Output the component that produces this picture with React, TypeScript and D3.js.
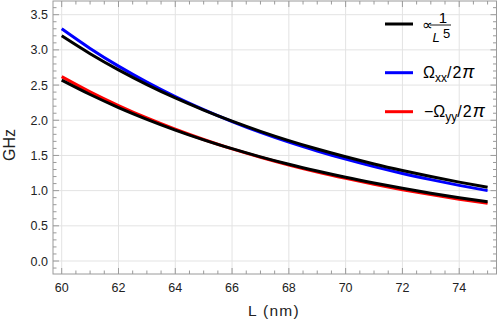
import { useEffect, useRef } from 'react';
import * as d3 from 'd3';

// L in nm
const lengths = [60, 61, 62, 63, 64, 65, 66, 67, 68, 69, 70, 71, 72, 73, 74, 75];
// fitted 1/L^5 curves (black)
const fitUpper = [3.2, 2.946, 2.716, 2.507, 2.317, 2.145, 1.987, 1.843, 1.711, 1.591, 1.481, 1.379, 1.286, 1.2, 1.121, 1.049];
const fitLower = [2.57, 2.366, 2.181, 2.014, 1.861, 1.722, 1.596, 1.48, 1.374, 1.278, 1.189, 1.108, 1.033, 0.964, 0.9, 0.842];
// Omega_xx / 2pi
const omegaXX = [3.3, 3.021, 2.769, 2.542, 2.336, 2.151, 1.982, 1.828, 1.689, 1.563, 1.447, 1.341, 1.244, 1.156, 1.075, 1.0];
// -Omega_yy / 2pi
const omegaYY = [2.62, 2.404, 2.209, 2.032, 1.872, 1.727, 1.594, 1.475, 1.365, 1.265, 1.174, 1.09, 1.013, 0.943, 0.879, 0.82];

const xTicks = [60, 62, 64, 66, 68, 70, 72, 74];
const yTicks = [0, 0.5, 1, 1.5, 2, 2.5, 3, 3.5];

const FONT = 'Liberation Sans, Arial, sans-serif';

const App = () => {
  const ref = useRef<SVGSVGElement>(null);

  useEffect(() => {
    const svg = d3.select(ref.current);
    svg.selectAll('*').remove();

    const left = 53, right = 496.5, top = 1, bottom = 274;

    const x = d3.scaleLinear().domain([60, 75]).range([61.7, 487.6]);
    const y = d3.scaleLinear().domain([0, 3.5]).range([261, 14.7]);

    const frameColor = '#9a9a9a';
    const gridColor = '#e3e3e3';

    // grid
    const grid = svg.append('g');
    xTicks.forEach(t => {
      grid.append('line')
        .attr('x1', x(t)).attr('x2', x(t))
        .attr('y1', top).attr('y2', bottom)
        .attr('stroke', gridColor).attr('stroke-width', 1);
    });
    yTicks.forEach(t => {
      grid.append('line')
        .attr('x1', left).attr('x2', right)
        .attr('y1', y(t)).attr('y2', y(t))
        .attr('stroke', gridColor).attr('stroke-width', 1);
    });

    // curves
    const series = [
      { vals: omegaXX, color: '#0000ff' },
      { vals: fitUpper, color: '#000000' },
      { vals: omegaYY, color: '#ff0000' },
      { vals: fitLower, color: '#000000' },
    ];
    const line = d3.line<number>()
      .x((_, i) => x(lengths[i]))
      .y(d => y(d))
      .curve(d3.curveMonotoneX);
    series.forEach(s => {
      svg.append('path')
        .datum(s.vals)
        .attr('d', line)
        .attr('fill', 'none')
        .attr('stroke', s.color)
        .attr('stroke-width', 3);
    });

    // frame
    svg.append('rect')
      .attr('x', left).attr('y', top)
      .attr('width', right - left).attr('height', bottom - top)
      .attr('fill', 'none').attr('stroke', frameColor).attr('stroke-width', 1);

    const ticks = svg.append('g').attr('stroke', frameColor).attr('stroke-width', 1);
    d3.range(60, 75.01, 0.5).forEach(t => {
      const major = Math.abs(t % 2) < 1e-6;
      const len = major ? 6 : 3.5;
      ticks.append('line').attr('x1', x(t)).attr('x2', x(t)).attr('y1', bottom).attr('y2', bottom - len);
      ticks.append('line').attr('x1', x(t)).attr('x2', x(t)).attr('y1', top).attr('y2', top + len);
    });
    d3.range(-0.1, 3.65, 0.1).forEach(t => {
      const major = Math.abs(Math.round(t * 10) % 5) === 0;
      const len = major ? 6 : 3.5;
      ticks.append('line').attr('x1', left).attr('x2', left + len).attr('y1', y(t)).attr('y2', y(t));
      ticks.append('line').attr('x1', right).attr('x2', right - len).attr('y1', y(t)).attr('y2', y(t));
    });

    // tick labels
    svg.append('g').selectAll('text')
      .data(xTicks).enter().append('text')
      .attr('x', d => x(d)).attr('y', 292)
      .attr('text-anchor', 'middle')
      .attr('font-family', FONT).attr('font-size', 12.5).attr('fill', '#222')
      .text(d => d);
    svg.append('g').selectAll('text')
      .data(yTicks).enter().append('text')
      .attr('x', 48).attr('y', d => y(d) + 4.5)
      .attr('text-anchor', 'end')
      .attr('font-family', FONT).attr('font-size', 12.5).attr('fill', '#222')
      .text(d => d.toFixed(1));

    // axis titles
    svg.append('text')
      .attr('x', 274).attr('y', 316)
      .attr('text-anchor', 'middle')
      .attr('font-family', FONT).attr('font-size', 15.5).attr('letter-spacing', 1.3).attr('fill', '#222')
      .text('L (nm)');
    svg.append('text')
      .attr('transform', `translate(15,145) rotate(-90)`)
      .attr('text-anchor', 'middle')
      .attr('font-family', FONT).attr('font-size', 16).attr('fill', '#222')
      .text('GHz');

    // legend
    const legend = svg.append('g').attr('font-family', FONT).attr('fill', '#000');
    const items = [
      { color: '#000000', y: 24 },
      { color: '#0000ff', y: 72.7 },
      { color: '#ff0000', y: 111.7 },
    ];
    items.forEach(it => {
      legend.append('line')
        .attr('x1', 385).attr('x2', 413)
        .attr('y1', it.y).attr('y2', it.y)
        .attr('stroke', it.color).attr('stroke-width', 3);
    });

    // ∝ 1/L^5
    legend.append('text').attr('x', 422).attr('y', 30).attr('font-size', 15).text('∝');
    legend.append('line')
      .attr('x1', 430).attr('x2', 451).attr('y1', 25).attr('y2', 25)
      .attr('stroke', '#000').attr('stroke-width', 0.9);
    legend.append('text').attr('x', 443).attr('y', 22.5).attr('text-anchor', 'middle')
      .attr('font-size', 15).text('1');
    legend.append('text').attr('x', 432.5).attr('y', 42).attr('font-size', 13)
      .attr('font-style', 'italic').text('L');
    legend.append('text').attr('x', 443).attr('y', 38).attr('font-size', 13).text('5');

    // Ω_xx/2π
    const t1 = legend.append('text').attr('x', 423).attr('y', 78).attr('font-size', 16);
    t1.append('tspan').text('Ω');
    t1.append('tspan').attr('dy', 4).attr('font-size', 12).text('xx');
    t1.append('tspan').attr('dy', -4).text('/');
    t1.append('tspan').attr('dx', 1).text('2');
    t1.append('tspan').attr('dx', 1).attr('font-size', 18).attr('font-style', 'italic').text('π');

    // −Ω_yy/2π
    const t2 = legend.append('text').attr('x', 424).attr('y', 117).attr('font-size', 16);
    t2.append('tspan').text('−Ω');
    t2.append('tspan').attr('dy', 4).attr('font-size', 12).text('yy');
    t2.append('tspan').attr('dy', -4).text('/');
    t2.append('tspan').attr('dx', 1).text('2');
    t2.append('tspan').attr('dx', 1).attr('font-size', 18).attr('font-style', 'italic').text('π');
  }, []);

  return (
    <svg
      ref={ref}
      width={498}
      height={325}
      style={{ position: 'absolute', left: 0, top: 0, background: '#fff' }}
    />
  );
};

export default App;
